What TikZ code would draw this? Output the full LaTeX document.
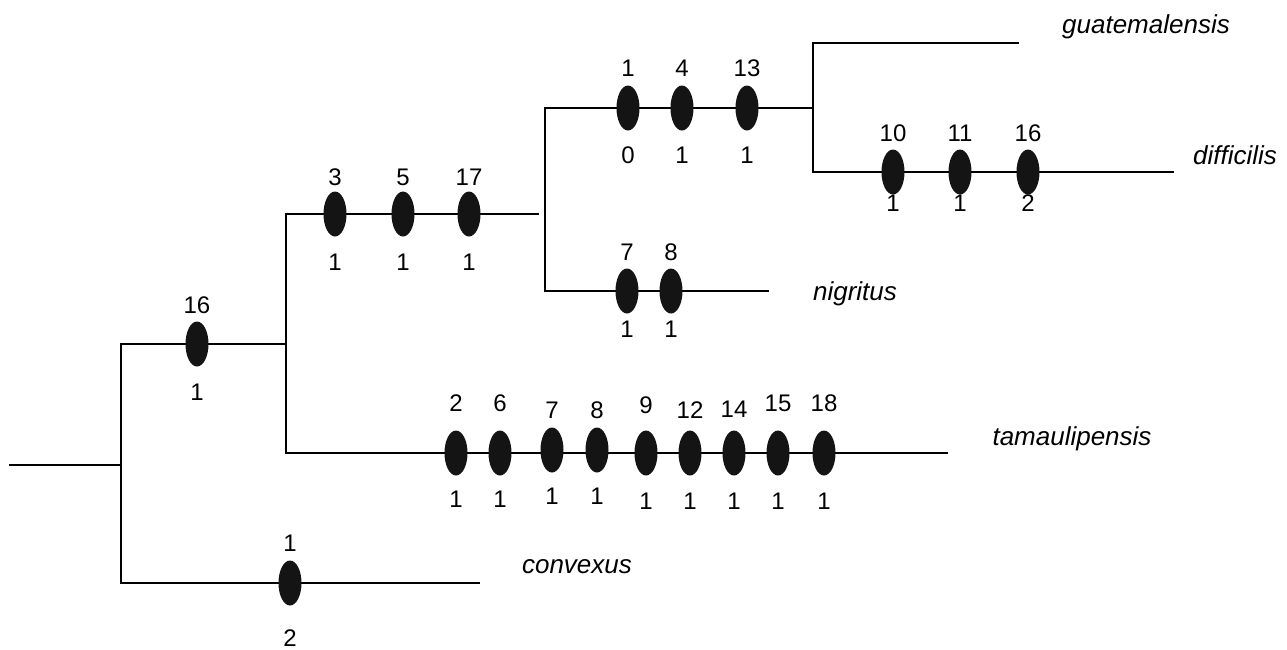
\documentclass[tikz,border=0pt]{standalone}
\usepackage{fontspec}
\setmainfont{Liberation Sans}
\usetikzlibrary{shapes.geometric}
\tikzset{
  branch/.style={line width=1.8pt, line cap=rect},
  apo/.style={ellipse, fill=black!92, draw=none, inner sep=0pt, minimum width=23pt, minimum height=45pt},
  chr/.style={inner sep=0pt, font=\fontsize{24}{28}\selectfont},
  taxon/.style={inner sep=0pt, anchor=base, font=\fontsize{26}{30}\selectfont\itshape},
}
% \ap{name}{x}{y}{top label}{top y}{bottom label}{bottom y}
\newcommand{\ap}[7]{%
  \node[apo] (#1) at (#2,#3) {};
  \node[chr] (#1t) at (#2,#5) {#4};
  \node[chr] (#1b) at (#2,#7) {#6};
}
\begin{document}
\begin{tikzpicture}[x=1pt,y=-1pt]
\useasboundingbox (0,0) rectangle (1287,649);
% junction coordinates
\coordinate (r0) at (10,465);
\coordinate (r1) at (121,465);
\coordinate (r1u) at (121,344);
\coordinate (r1d) at (121,583);
\coordinate (n2) at (286,344);
\coordinate (n2u) at (286,214);
\coordinate (n2d) at (286,453);
\coordinate (n3) at (538,214);
\coordinate (n3v) at (545,214);
\coordinate (n3u) at (545,108);
\coordinate (n3d) at (545,291);
\coordinate (n4) at (813,108);
\coordinate (n4u) at (813,43);
\coordinate (n4d) at (813,172);
\coordinate (tgua) at (1018,43);
\coordinate (tdif) at (1173,172);
\coordinate (tnig) at (768,291);
\coordinate (ttam) at (947,453);
\coordinate (tcon) at (479,583);
% branches
\draw[branch] (r0) -- (r1);
\draw[branch] (r1u) -- (r1d);
\draw[branch] (r1u) -- (n2);
\draw[branch] (n2u) -- (n2d);
\draw[branch] (n2u) -- (n3);
\draw[branch] (n3u) -- (n3d);
\draw[branch] (n3u) -- (n4);
\draw[branch] (n4u) -- (n4d);
\draw[branch] (n4u) -- (tgua);
\draw[branch] (n4d) -- (tdif);
\draw[branch] (n3d) -- (tnig);
\draw[branch] (n2d) -- (ttam);
\draw[branch] (r1d) -- (tcon);
% apomorphies
\ap{a16}{197}{344}{16}{305}{1}{392}
\ap{a3}{335}{214}{3}{177}{1}{262}
\ap{a5}{403}{214}{5}{177}{1}{262}
\ap{a17}{469}{214}{17}{177}{1}{262}
\ap{b1}{628}{108}{1}{68}{0}{155}
\ap{b4}{682}{108}{4}{68}{1}{155}
\ap{b13}{747}{108}{13}{68}{1}{155}
\ap{c10}{893}{172}{10}{133}{1}{203}
\ap{c11}{960}{172}{11}{133}{1}{203}
\ap{c16}{1028}{172}{16}{133}{2}{203}
\ap{d7}{627}{291}{7}{252}{1}{329}
\ap{d8}{671}{291}{8}{252}{1}{329}
\ap{e2}{456}{453}{2}{403}{1}{499}
\ap{e6}{500}{453}{6}{403}{1}{499}
\ap{e7}{552}{450}{7}{410}{1}{496}
\ap{e8}{597}{450}{8}{410}{1}{496}
\ap{e9}{646}{453}{9}{405}{1}{501}
\ap{e12}{690}{453}{12}{410}{1}{501}
\ap{e14}{734}{453}{14}{409}{1}{501}
\ap{e15}{778}{453}{15}{403}{1}{501}
\ap{e18}{824}{453}{18}{403}{1}{501}
\ap{f1}{290}{583}{1}{543}{2}{638}
% taxa
\node[taxon] (guat) at (1146,33) {guatemalensis};
\node[taxon] (diff) at (1235,164) {difficilis};
\node[taxon] (nigr) at (855,300) {nigritus};
\node[taxon] (tama) at (1072,445) {tamaulipensis};
\node[taxon] (conv) at (577,573) {convexus};
\end{tikzpicture}
\end{document}
